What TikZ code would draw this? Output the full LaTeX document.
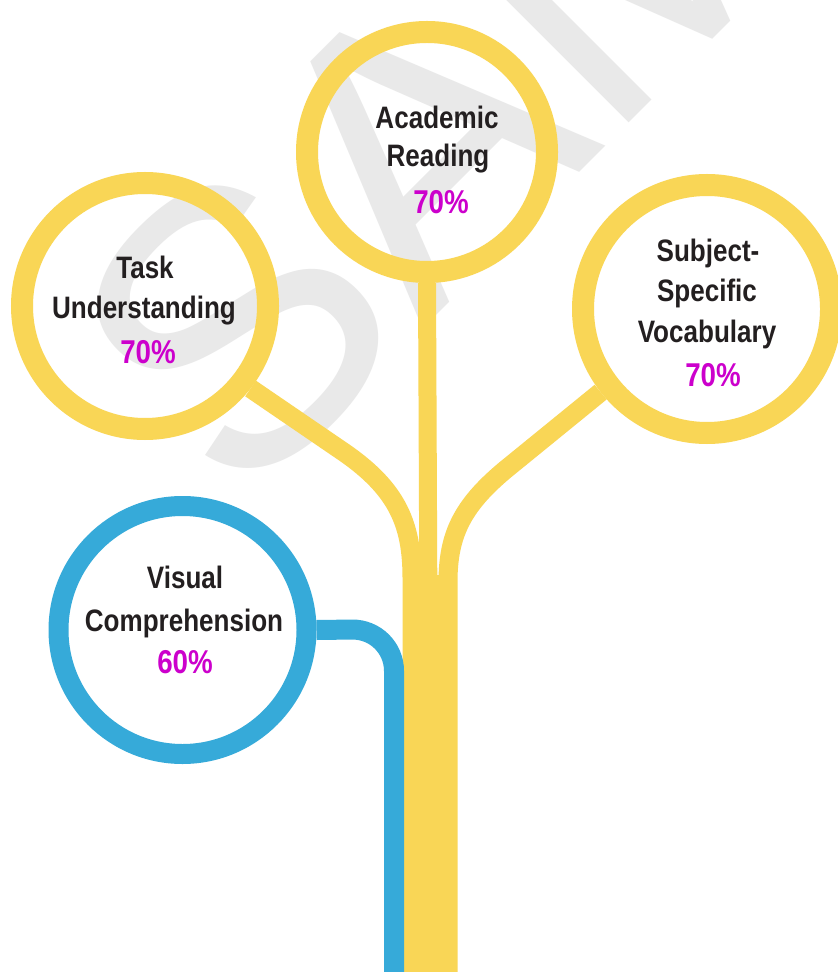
\documentclass[tikz,border=0pt]{standalone}
\usepackage{fontspec}
\newfontfamily\labfont[FakeStretch=0.84]{Liberation Sans}
\newfontfamily\wmfont{Liberation Sans}
\definecolor{treeyellow}{RGB}{249,214,86}
\definecolor{treeblue}{RGB}{54,170,217}
\definecolor{pctmag}{RGB}{204,0,204}
\definecolor{labdark}{RGB}{35,31,32}
\definecolor{wmgray}{RGB}{233,233,233}
\tikzset{
  ybubble/.style={circle, draw=treeyellow, line width=11pt, minimum size=120pt, inner sep=0pt},
  bbubble/.style={circle, draw=treeblue, line width=10pt, minimum size=124pt, inner sep=0pt},
  branch/.style={draw=treeyellow, line width=9.5pt},
  lab/.style={anchor=base, inner sep=0pt, text=labdark, font=\labfont\bfseries\fontsize{15.5}{18}\selectfont},
  pct/.style={anchor=base, inner sep=0pt, text=pctmag, font=\labfont\bfseries\fontsize{16.5}{19}\selectfont}
}
\begin{document}
\begin{tikzpicture}[x=0.5pt,y=-0.5pt]
\useasboundingbox (0,0) rectangle (838,972);
\clip (0,0) rectangle (838,972);
\fill[white] (0,0) rectangle (838,972);
% watermark
\node[anchor=base west, inner sep=0pt, rotate=45, text=wmgray, font=\wmfont\fontsize{195}{200}\selectfont] (wm) at (238,514) {SAMPLE};
% bubbles
\node[ybubble] (ar) at (427,152) {};
\node[ybubble, minimum size=123pt] (tu) at (145,306) {};
\node[ybubble, minimum size=124pt] (ss) at (707,309) {};
\node[bbubble] (vc) at (182.5,630) {};
% trunk and branches
\coordinate (bot) at (430,972);
\fill[treeyellow] (403,575) rectangle (457,972);
\draw[branch, line width=9pt] (ar.south) -- (bot);
\draw[branch] (tu.-38) -- (345,453) .. controls (398,490) and (412,525) .. (412,578) -- (412,972);
\draw[branch] (ss.218) -- (505,470) .. controls (462,506) and (448,535) .. (448,582) -- (448,972);
\draw[draw=treeblue, line width=10pt, rounded corners=21pt] (vc.east) -- (394,629) -- (394,972);
% labels
\node[lab] (ar1) at (437,128.3) {Academic};
\node[lab] (ar2) at (438,166.7) {Reading};
\node[pct] (ar3) at (441,213.3) {70\%};
\node[lab] (tu1) at (145,278.3) {Task};
\node[lab] (tu2) at (144,318.3) {Understanding};
\node[pct] (tu3) at (148,363.3) {70\%};
\node[lab] (ss1) at (708,261.3) {Subject-};
\node[lab] (ss2) at (707,302) {Specific};
\node[lab] (ss3) at (707,343) {Vocabulary};
\node[pct] (ss4) at (713,386.3) {70\%};
\node[lab] (vc1) at (185,588) {Visual};
\node[lab] (vc2) at (184,631.3) {Comprehension};
\node[pct] (vc3) at (185,673) {60\%};
\end{tikzpicture}
\end{document}
